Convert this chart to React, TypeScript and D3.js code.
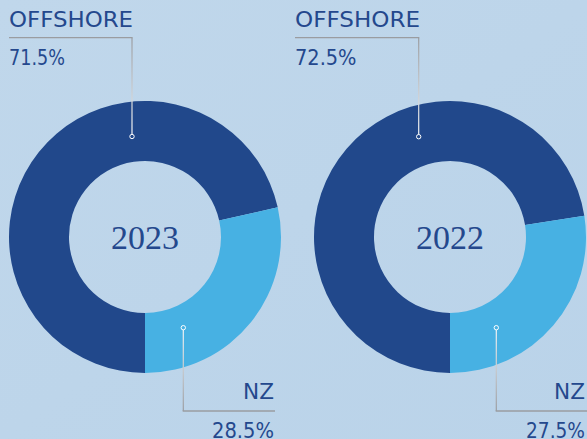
import React from "react";
import * as d3 from "d3";

const years = ["2023", "2022"];
const categories = ["OFFSHORE", "NZ"];
const offshoreValues = [71.5, 72.5];
const nzValues = [28.5, 27.5];

const W = 587;
const H = 439;
const BG = "#bed6ea";
const DARK = "#21488b";
const LIGHT = "#47b1e3";
const TEXT = "#24488d";

// layout per chart
const layout = [
  { cx: 145, cy: 237, offDot: [132, 136.5], nzDot: [183.3, 327.7], offLineX: 9, nzLineX: 275, offText: [9, 124, 56], nzText: [274, 31, 62] },
  { cx: 450, cy: 237, offDot: [418.7, 136.7], nzDot: [496.3, 327.7], offLineX: 295, nzLineX: 587, offText: [295, 125, 61.5], nzText: [585, 31, 59] },
];

const R_OUT = 136;
const R_IN = 76;

export default function App() {
  const pie = d3.pie<number>().sort(null).startAngle(-Math.PI).endAngle(Math.PI);
  const arc = d3.arc<d3.PieArcDatum<number>>().innerRadius(R_IN).outerRadius(R_OUT);
  const colors = d3.scaleOrdinal<string, string>().domain(categories).range([DARK, LIGHT]);
  const fmt = (v: number) => `${v.toFixed(1)}%`;

  return (
    <svg width={W} height={H} style={{ position: "absolute", left: 0, top: 0 }} fontFamily="DejaVu Sans">
      <defs>
        <linearGradient id="bg" x1="0" y1="0" x2="1" y2="1">
          <stop offset="0" stopColor="#c0d7eb" />
          <stop offset="1" stopColor="#bad3e9" />
        </linearGradient>
        <linearGradient id="upLine" x1="0" y1="0" x2="0" y2="1">
          <stop offset="0" stopColor="#9a9ca0" />
          <stop offset="1" stopColor="#f4f6f8" />
        </linearGradient>
        <linearGradient id="downLine" x1="0" y1="0" x2="0" y2="1">
          <stop offset="0" stopColor="#f4f6f8" />
          <stop offset="1" stopColor="#9a9ca0" />
        </linearGradient>
      </defs>
      <rect width={W} height={H} fill="url(#bg)" />
      {years.map((yr, i) => {
        const L = layout[i];
        const vals = [offshoreValues[i], nzValues[i]];
        const arcs = pie(vals);
        const topY = 37.7;
        const botY = 411;
        return (
          <g key={yr}>
            <g transform={`translate(${L.cx},${L.cy})`}>
              {arcs.map((a, j) => (
                <path key={j} d={arc(a) || ""} fill={colors(categories[j])} />
              ))}
              <text x={0} y={12} textAnchor="middle" fontFamily="Liberation Serif" fontSize={34} fill={TEXT}>
                {yr}
              </text>
            </g>
            {/* offshore leader */}
            <rect x={L.offDot[0] - 0.6} y={topY} width={1.2} height={L.offDot[1] - topY} fill="url(#upLine)" />
            <line x1={L.offLineX} x2={L.offDot[0] + 0.6} y1={topY} y2={topY} stroke="#9a9ca0" strokeWidth={1.3} />
            <circle cx={L.offDot[0]} cy={L.offDot[1]} r={2.2} fill={DARK} stroke="#ffffff" strokeWidth={1} />
            <text x={L.offText[0]} y={27} fontSize={20.5} fill={TEXT} textLength={L.offText[1]} lengthAdjust="spacingAndGlyphs">
              {categories[0]}
            </text>
            <text x={L.offText[0]} y={65} fontSize={21.5} fill={TEXT} textLength={L.offText[2]} lengthAdjust="spacingAndGlyphs">
              {fmt(offshoreValues[i])}
            </text>
            {/* NZ leader */}
            <rect x={L.nzDot[0] - 0.6} y={L.nzDot[1]} width={1.2} height={botY - L.nzDot[1]} fill="url(#downLine)" />
            <line x1={L.nzDot[0] - 0.6} x2={L.nzLineX} y1={botY} y2={botY} stroke="#9a9ca0" strokeWidth={1.3} />
            <circle cx={L.nzDot[0]} cy={L.nzDot[1]} r={2.2} fill={LIGHT} stroke="#ffffff" strokeWidth={1} />
            <text x={L.nzText[0] - L.nzText[1]} y={399} fontSize={20.5} fill={TEXT} textLength={L.nzText[1]} lengthAdjust="spacingAndGlyphs">
              {categories[1]}
            </text>
            <text x={L.nzText[0] - L.nzText[2]} y={437.5} fontSize={21.5} fill={TEXT} textLength={L.nzText[2]} lengthAdjust="spacingAndGlyphs">
              {fmt(nzValues[i])}
            </text>
          </g>
        );
      })}
    </svg>
  );
}
